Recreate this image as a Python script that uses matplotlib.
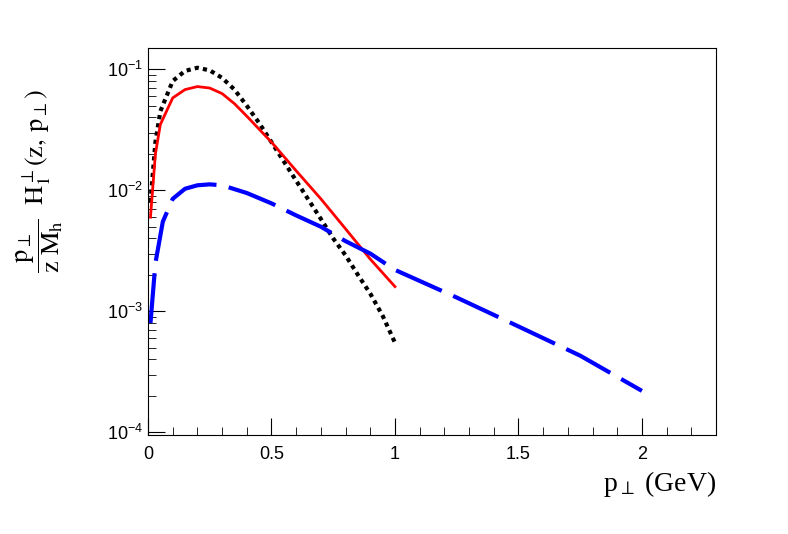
import matplotlib
matplotlib.use("Agg")
import matplotlib.pyplot as plt
from matplotlib.ticker import LogLocator, MultipleLocator, FixedLocator

plt.rcParams["mathtext.fontset"] = "stix"

black_x = [0.01,0.03,0.05,0.1,0.15,0.2,0.25,0.3,0.35,0.4,0.45,0.5,0.6,0.7,0.75,0.8,0.85,0.9,0.95,1.0]
black_y = [0.008,0.025,0.045,0.08,0.097,0.103,0.098,0.085,0.068,0.05,0.036,0.025,0.012,0.0058,0.004,0.0029,0.002,0.0014,0.00092,0.00055]
red_x = [0.01,0.03,0.05,0.1,0.15,0.2,0.25,0.3,0.35,0.4,0.45,0.5,0.6,0.7,0.8,0.9,1.0]
red_y = [0.006,0.02,0.035,0.058,0.068,0.072,0.07,0.063,0.052,0.041,0.032,0.025,0.0145,0.0085,0.0048,0.0027,0.0016]
blue_x = [0.01,0.03,0.06,0.1,0.15,0.2,0.25,0.3,0.4,0.5,0.6,0.7,0.8,0.9,1.0,1.25,1.5,1.75,2.0]
blue_y = [0.0008,0.0025,0.0055,0.0085,0.0103,0.011,0.0112,0.011,0.0095,0.0078,0.0062,0.005,0.0038,0.003,0.0022,0.0013,0.00075,0.00043,0.00022]

fig = plt.figure(figsize=(7.88, 5.34), dpi=100)
ax = fig.add_axes([148/788, 1-435/534, (716-148)/788, (435-48)/534])
ax.plot(black_x, black_y, color="black", lw=3, ls=(0, (1, 1)))
ax.plot(red_x, red_y, color="red", lw=2)
ax.plot(blue_x, blue_y, color="blue", lw=3, ls=(0, (12, 3)))
ax.set_yscale("log")
ax.set_xlim(0, 2.3)
ax.set_ylim(9.5e-5, 0.15)
ax.xaxis.set_major_locator(FixedLocator([0, 0.5, 1, 1.5, 2]))
ax.set_xticklabels(["0", "0.5", "1", "1.5", "2"])
ax.xaxis.set_minor_locator(MultipleLocator(0.1))
ax.yaxis.set_major_locator(LogLocator(base=10))
ax.yaxis.set_minor_locator(LogLocator(base=10, subs=range(2, 10)))
ax.tick_params(which="both", direction="in", labelsize=13)
ax.tick_params(which="major", length=12)
ax.tick_params(which="minor", length=6)
for l in ax.get_xticklabels() + ax.get_yticklabels():
    l.set_fontfamily("Liberation Sans")
ax.tick_params(axis="x", pad=8)
ax.set_xlabel(r"p$_\perp$ (GeV)", fontsize=20, fontfamily="Liberation Serif", loc="right")
fig.text(0.05, 0.66, r"$\mathrm{\dfrac{p_\perp}{z\ M_h}\ \ H_1^\perp(z,\,p_\perp)}$",
         fontsize=19, rotation=90, ha="center", va="center")
fig.savefig("out.png", dpi=100)
